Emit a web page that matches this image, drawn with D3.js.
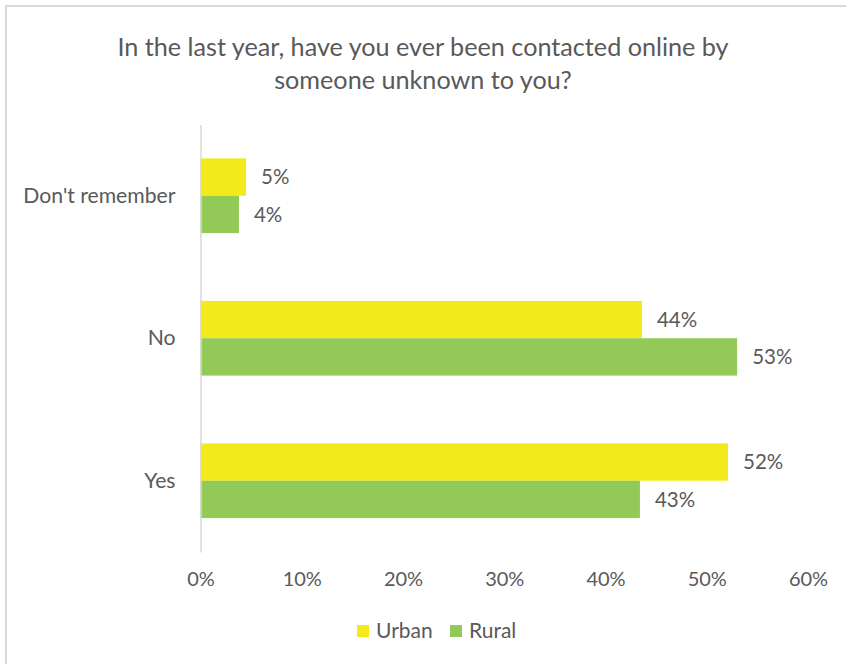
<!DOCTYPE html>
<html>
<head>
<meta charset="utf-8">
<script src="https://cdn.jsdelivr.net/npm/d3@7"></script>
<style>
  html, body { margin: 0; padding: 0; background: #fff; }
  svg { display: block; }
  text { font-family: Lato, "Open Sans", sans-serif; fill: #595959; }
</style>
</head>
<body>
<script>
// Survey answers, in percent
const categories = ["Don't remember", "No", "Yes"];
const seriesNames = ["Urban", "Rural"];
const urbanValues = [4.5, 43.6, 52.1];
const ruralValues = [3.8, 53.0, 43.4];
const xTicks = [0, 10, 20, 30, 40, 50, 60];
const titleLines = ["In the last year, have you ever been contacted online by", "someone unknown to you?"];
const colors = ["#F2EA1A", "#92C957"];

const W = 846, H = 664;
const svg = d3.select("body").append("svg").attr("width", W).attr("height", H);

// Chart frame (runs off the right and bottom edges)
svg.append("rect")
  .attr("x", 6).attr("y", 6).attr("width", W + 10).attr("height", H + 10)
  .attr("fill", "#fff").attr("stroke", "#d9d9d9").attr("stroke-width", 2);

// Title
svg.append("g").selectAll("text").data(titleLines).join("text")
  .attr("x", 423).attr("y", (d, i) => 56 + i * 33)
  .attr("text-anchor", "middle")
  .attr("font-size", 25.2)
  .text(d => d);

const x = d3.scaleLinear().domain([0, 60]).range([200.5, 808]);
const y = d3.scaleBand().domain(categories).range([124.5, 552])
  .paddingInner(0.476).paddingOuter(0.238);
const ySub = d3.scaleBand().domain(seriesNames).range([0, y.bandwidth()]);

const rows = categories.map((c, i) => ({
  cat: c,
  vals: [{ s: "Urban", v: urbanValues[i] }, { s: "Rural", v: ruralValues[i] }]
}));

// Bars and value labels
const groups = svg.append("g").selectAll("g").data(rows).join("g")
  .attr("transform", d => `translate(0,${y(d.cat)})`);

groups.selectAll("rect").data(d => d.vals).join("rect")
  .attr("x", x(0))
  .attr("y", d => ySub(d.s))
  .attr("width", d => x(d.v) - x(0))
  .attr("height", ySub.bandwidth())
  .attr("fill", (d, i) => colors[i]);

groups.selectAll("text").data(d => d.vals).join("text")
  .attr("x", d => x(d.v) + 15)
  .attr("y", d => ySub(d.s) + ySub.bandwidth() / 2)
  .attr("dy", "0.35em")
  .attr("font-size", 20.5)
  .text(d => Math.round(d.v) + "%");

// Category axis
const yAxis = svg.append("g").attr("transform", `translate(${x(0)},0)`)
  .call(d3.axisLeft(y).tickSize(0).tickPadding(25));
yAxis.select(".domain").attr("stroke", "#d9d9d9").attr("stroke-width", 1.5);
yAxis.selectAll("text").attr("font-size", 21.2).attr("fill", "#595959");
yAxis.attr("font-family", null);

// Value axis (labels only)
const xAxis = svg.append("g").attr("transform", "translate(0,552)")
  .call(d3.axisBottom(x).tickValues(xTicks).tickFormat(d => d + "%").tickSize(0).tickPadding(20));
xAxis.select(".domain").remove();
xAxis.selectAll("text").attr("font-size", 20).attr("fill", "#595959");
xAxis.attr("font-family", null);

// Legend
const legend = svg.append("g").attr("transform", "translate(357,631)");
const legendX = [0, 93];
const items = legend.selectAll("g").data(seriesNames).join("g")
  .attr("transform", (d, i) => `translate(${legendX[i]},0)`);
items.append("rect").attr("x", 0).attr("y", -6).attr("width", 12).attr("height", 12)
  .attr("fill", (d, i) => colors[i]);
items.append("text").attr("x", 19).attr("dy", "0.35em").attr("font-size", 21).text(d => d);
</script>
</body>
</html>
